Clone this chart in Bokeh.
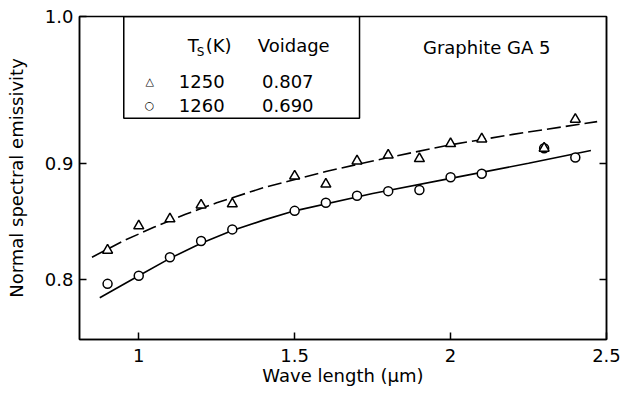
from bokeh.plotting import figure
from bokeh.models import FixedTicker, LinearAxis, Range1d, Label, BoxAnnotation
from bokeh.embed import file_html
from bokeh.resources import INLINE

# ---- data ----
tri_x = [0.9, 1.0, 1.1, 1.2, 1.3, 1.5, 1.6, 1.7, 1.8, 1.9, 2.0, 2.1, 2.3, 2.4]
tri_y = [0.825, 0.846, 0.852, 0.864, 0.865, 0.889, 0.882, 0.902, 0.907, 0.904, 0.917, 0.921, 0.913, 0.938]
circ_x = [0.9, 1.0, 1.1, 1.2, 1.3, 1.5, 1.6, 1.7, 1.8, 1.9, 2.0, 2.1, 2.3, 2.4]
circ_y = [0.796, 0.803, 0.819, 0.833, 0.843, 0.859, 0.866, 0.872, 0.876, 0.877, 0.888, 0.891, 0.913, 0.905]

dash_x = [0.85, 0.95, 1.05, 1.15, 1.25, 1.4, 1.6, 1.8, 2.0, 2.2, 2.47]
dash_y = [0.819, 0.833, 0.845, 0.856, 0.866, 0.879, 0.893, 0.905, 0.916, 0.925, 0.936]
solid_x = [0.875, 1.0, 1.1, 1.2, 1.3, 1.4, 1.5, 1.75, 2.0, 2.25, 2.45]
solid_y = [0.784, 0.803, 0.818, 0.831, 0.842, 0.851, 0.859, 0.874, 0.887, 0.900, 0.911]

x_tick_vals = [1, 1.5, 2, 2.5]
x_tick_labels = ["1", "1.5", "2", "2.5"]
Y_TOP = 1.0267
y_tick_vals = [0.8, 0.9, Y_TOP]
y_tick_labels = ["0.8", "0.9", "1.0"]

legend_temps = ["1250", "1260"]
legend_voidage = ["0.807", "0.690"]
legend_symbols = ["\u25b3", "\u25cb"]

FONT = "DejaVu Sans"
FS = "18px"

p = figure(width=634, height=394, output_backend="svg", toolbar_location=None,
           x_range=Range1d(0.81, 2.5), y_range=Range1d(0.748, Y_TOP),
           min_border_left=79, min_border_right=28, min_border_top=16, min_border_bottom=55,
           background_fill_color="white", border_fill_color="white")

p.xgrid.visible = False
p.ygrid.visible = False
p.outline_line_color = "black"
p.outline_line_width = 1.5
p.outline_line_alpha = 1.0

for ax in (p.xaxis[0], p.yaxis[0]):
    ax.axis_line_color = "black"
    ax.axis_line_width = 1.5
    ax.major_tick_in = 7
    ax.major_tick_out = 0
    ax.major_tick_line_width = 1.5
    ax.minor_tick_line_color = None
    ax.major_label_text_font = FONT
    ax.major_label_text_font_size = FS
    ax.major_label_text_color = "black"
    ax.axis_label_text_font = FONT
    ax.axis_label_text_font_size = FS
    ax.axis_label_text_font_style = "normal"
    ax.axis_label_text_color = "black"

p.xaxis.ticker = FixedTicker(ticks=x_tick_vals)
p.xaxis.major_label_overrides = dict(zip(x_tick_vals, x_tick_labels))
p.xaxis.major_label_standoff = 9
p.xaxis.axis_label = "Wave length (\u03bcm)"
p.xaxis.axis_label_standoff = 0

p.yaxis.ticker = FixedTicker(ticks=y_tick_vals)
p.yaxis.major_label_overrides = dict(zip(y_tick_vals, y_tick_labels))
p.yaxis.major_label_standoff = 6
p.yaxis.axis_label = "Normal spectral emissivity"
p.yaxis.axis_label_standoff = 15

right = LinearAxis(ticker=FixedTicker(ticks=y_tick_vals[:2]),
                   major_label_overrides={v: "" for v in y_tick_vals[:2]},
                   major_tick_in=7, major_tick_out=0, major_tick_line_width=1.5,
                   minor_tick_line_color=None, axis_line_width=1.5,
                   major_label_text_font_size="1px")
p.add_layout(right, "right")

# curves
p.line(dash_x, dash_y, line_color="black", line_width=1.6, line_dash="14 5")
p.line(solid_x, solid_y, line_color="black", line_width=1.6)

# points
p.scatter(circ_x, circ_y, marker="circle", size=9, fill_color="white",
          line_color="black", line_width=1.5)
p.scatter(tri_x, tri_y, marker="triangle", size=10, fill_color="white",
          line_color="black", line_width=1.5)

# legend table box
p.add_layout(BoxAnnotation(left=0.952, right=1.708, bottom=0.9388, top=Y_TOP,
                           fill_alpha=0, line_color="black", line_width=1.5, line_alpha=1))

def lab(x, y, text, align="center", size=FS):
    p.add_layout(Label(x=x, y=y, text=text, text_align=align, text_baseline="middle",
                       text_font=FONT, text_font_size=size, text_color="black"))

lab(1.157, 1.0017, "T", align="left")
lab(1.186, 0.9965, "S", align="left", size="12px")
lab(1.215, 1.0017, "(K)", align="left")
lab(1.497, 1.0017, "Voidage")
row_y = [0.9707, 0.950]
for i in range(2):
    lab(1.035, row_y[i], legend_symbols[i], size="11px")
    lab(1.202, row_y[i], legend_temps[i])
    lab(1.478, row_y[i], legend_voidage[i])

lab(2.125, 1.000, "Graphite  GA 5")

open("out.html", "w").write(file_html(p, INLINE))
